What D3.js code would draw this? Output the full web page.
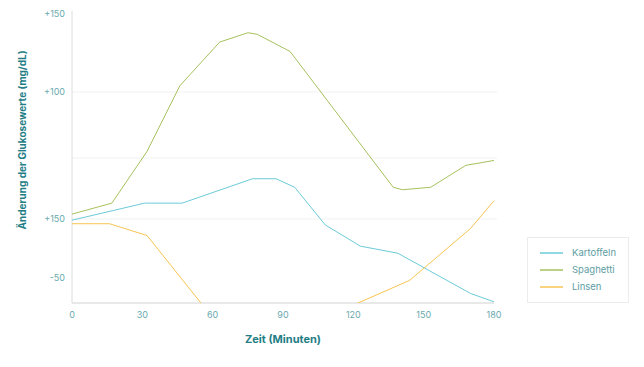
<!DOCTYPE html>
<html>
<head>
<meta charset="utf-8">
<script src="https://cdn.jsdelivr.net/npm/d3@7"></script>
<style>
  body { margin: 0; background: #fff; }
  svg { font-family: "Inter", "Noto Sans", sans-serif; }
</style>
</head>
<body>
<div class="chart"></div>
<script>
// Glukoseverlauf nach der Mahlzeit
const xTicks = [0, 30, 60, 90, 120, 150, 180];
const yTicks = [150, 100, 50, 0, -50];
const yTickLabels = ["+150", "+100", "", "+150", "-50"];
const gridValues = [100, 50, 0];

const kartoffelnT = [0, 31, 47, 77, 87, 95, 108, 123, 139, 170, 180];
const kartoffelnV = [-1, 13, 13, 33, 33, 26, -5, -23, -29, -63, -70];

const spaghettiT = [0, 17, 32, 46, 63, 75, 79, 93, 137, 141, 153, 168, 180];
const spaghettiV = [4, 13, 55, 104, 132, 138, 137, 126, 26, 24, 26, 44, 48];

const linsenT = [0, 16, 32, 55, 75, 100, 122, 144, 170, 180];
const linsenV = [-4, -4, -14, -71, -110, -95, -71, -52, -8, 15];

const seriesNames = ["Kartoffeln", "Spaghetti", "Linsen"];
const colors = ["#6ccbd8", "#a6c25c", "#f7c453"];

const width = 644, height = 367;

const svg = d3.select(".chart").append("svg")
  .attr("width", width)
  .attr("height", height);

const x = d3.scaleLinear().domain([0, 180]).range([72, 494]);
// the axis of the original is not evenly spaced, so a piecewise scale
const y = d3.scaleLinear()
  .domain([-71, -50, 0, 50, 100, 150])
  .range([303, 278, 219, 158, 92, 14]);

// gridlines
svg.append("g")
  .selectAll("line")
  .data(gridValues)
  .join("line")
  .attr("x1", 72)
  .attr("x2", 497)
  .attr("y1", d => y(d))
  .attr("y2", d => y(d))
  .attr("stroke", "#f1f1f1");

// axis lines
svg.append("line")
  .attr("x1", 72).attr("x2", 72)
  .attr("y1", 11).attr("y2", 303)
  .attr("stroke", "#dcdcdc");
svg.append("line")
  .attr("x1", 72).attr("x2", 494)
  .attr("y1", 303).attr("y2", 303)
  .attr("stroke", "#d2d2d2");

// y tick labels
svg.append("g")
  .selectAll("text")
  .data(yTicks)
  .join("text")
  .attr("x", 65)
  .attr("y", d => y(d))
  .attr("dy", "0.35em")
  .attr("text-anchor", "end")
  .attr("font-size", 9)
  .attr("fill", "#6aa9ae")
  .text((d, i) => yTickLabels[i]);

// x tick labels
svg.append("g")
  .selectAll("text")
  .data(xTicks)
  .join("text")
  .attr("x", d => x(d))
  .attr("y", 318)
  .attr("text-anchor", "middle")
  .attr("font-size", 9)
  .attr("fill", "#6aa9ae")
  .text(d => d);

// axis titles
svg.append("text")
  .attr("x", 283)
  .attr("y", 343)
  .attr("text-anchor", "middle")
  .attr("font-size", 11)
  .attr("font-weight", "bold")
  .attr("fill", "#237d85")
  .text("Zeit (Minuten)");

svg.append("text")
  .attr("transform", "translate(26,140) rotate(-90)")
  .attr("text-anchor", "middle")
  .attr("font-size", 10)
  .attr("font-weight", "bold")
  .attr("fill", "#237d85")
  .text("Änderung der Glukosewerte (mg/dL)");

// lines, clipped to the plot area
svg.append("clipPath")
  .attr("id", "plot")
  .append("rect")
  .attr("x", 60).attr("y", 0)
  .attr("width", 450).attr("height", 303);

const line = d3.line()
  .x(d => x(d[0]))
  .y(d => y(d[1]));

const series = [
  d3.zip(kartoffelnT, kartoffelnV),
  d3.zip(spaghettiT, spaghettiV),
  d3.zip(linsenT, linsenV)
];

svg.append("g")
  .attr("clip-path", "url(#plot)")
  .selectAll("path")
  .data(series)
  .join("path")
  .attr("d", line)
  .attr("fill", "none")
  .attr("stroke", (d, i) => colors[i])
  .attr("stroke-width", 1)
  .attr("stroke-linejoin", "round");

// legend
const legend = svg.append("g");
legend.append("rect")
  .attr("x", 527.5).attr("y", 237.5)
  .attr("width", 101).attr("height", 65)
  .attr("fill", "#fff")
  .attr("stroke", "#ececec");

const item = legend.selectAll("g")
  .data(seriesNames)
  .join("g")
  .attr("transform", (d, i) => "translate(540," + (253 + i * 17) + ")");

item.append("line")
  .attr("x1", 0).attr("x2", 23)
  .attr("stroke", (d, i) => colors[i])
  .attr("stroke-width", 1.5);

item.append("text")
  .attr("x", 32)
  .attr("dy", "0.35em")
  .attr("font-size", 9.5)
  .attr("fill", "#5e9da3")
  .text(d => d);
</script>
</body>
</html>
